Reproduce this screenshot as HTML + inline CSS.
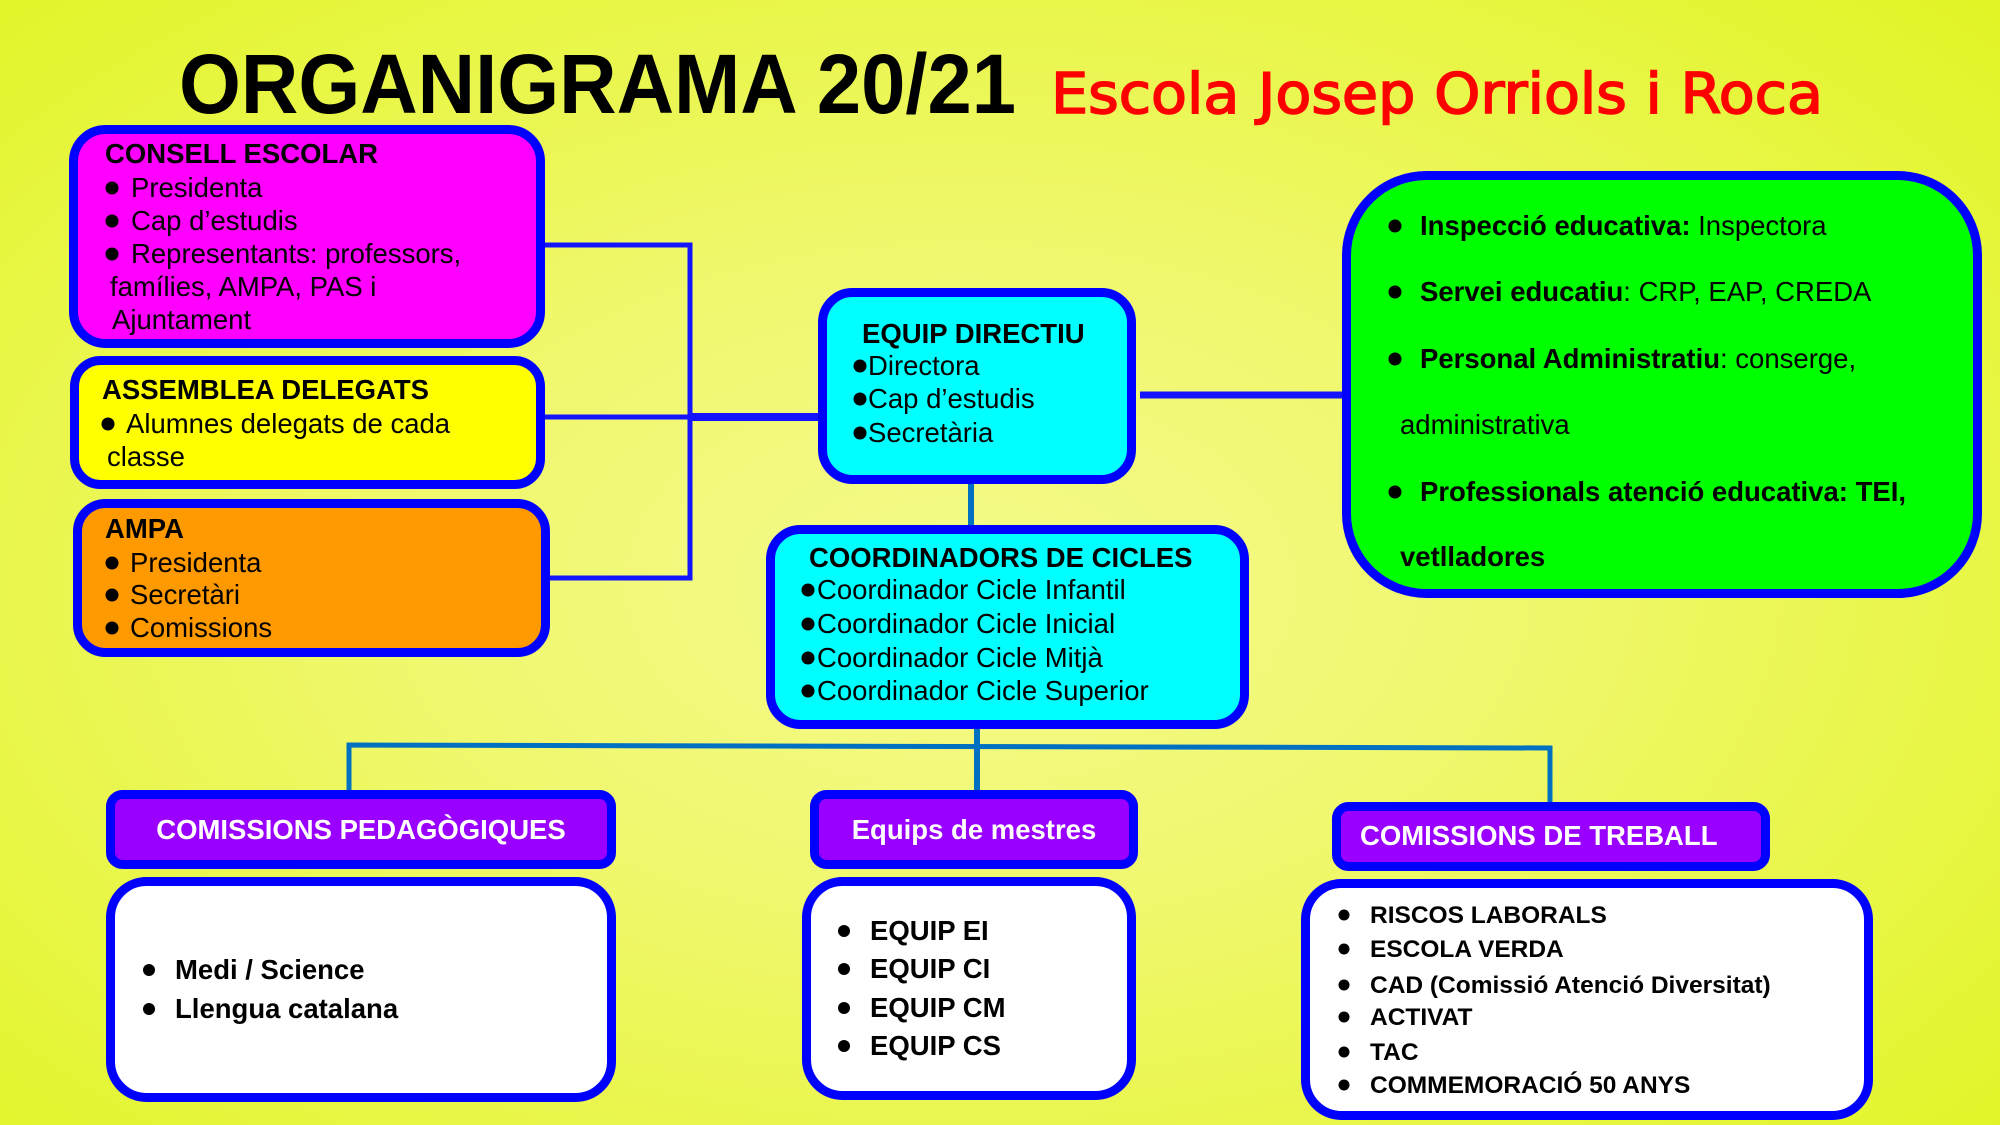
<!DOCTYPE html>
<html>
<head>
<meta charset="utf-8">
<style>
html,body{margin:0;padding:0;}
body{width:2000px;height:1125px;overflow:hidden;
background:radial-gradient(ellipse 75% 80% at 48% 52%, #f4fa8a 0%, #f0f870 35%, #e9f64a 65%, #dff41e 100%);}
svg{display:block;}
text{font-family:"Liberation Sans",Arial,sans-serif;}
.b{font-weight:bold;}
</style>
</head>
<body>
<svg width="2000" height="1125" viewBox="0 0 2000 1125" xmlns="http://www.w3.org/2000/svg">
  <!-- Title -->
  <text x="179" y="113" font-size="84" font-weight="bold" fill="#000" textLength="837" lengthAdjust="spacingAndGlyphs">ORGANIGRAMA 20/21</text>
  <text x="1051" y="113" font-size="56" fill="#ff0000" stroke="#ff0000" stroke-width="1.6" style="font-family:'DejaVu Sans','Liberation Sans',sans-serif" textLength="772" lengthAdjust="spacingAndGlyphs">Escola Josep Orriols i Roca</text>

  <!-- Connectors left (blue) -->
  <polyline points="545,245 690,245 690,578 550,578" fill="none" stroke="#1414ff" stroke-width="5"/>
  <line x1="545" y1="417" x2="692" y2="417" stroke="#1414ff" stroke-width="5"/>
  <line x1="688" y1="417" x2="829" y2="417" stroke="#1414ff" stroke-width="8"/>
  <line x1="1140" y1="395" x2="1342" y2="395" stroke="#1414ff" stroke-width="7"/>

  <!-- Connectors teal -->
  <line x1="971" y1="484" x2="971" y2="527" stroke="#0070c0" stroke-width="6"/>
  <line x1="977" y1="727" x2="977" y2="792" stroke="#0070c0" stroke-width="6"/>
  <polyline points="349,792 349,745 1550,748 1550,804" fill="none" stroke="#0070c0" stroke-width="5"/>

  <!-- CONSELL ESCOLAR -->
  <rect x="73.5" y="129.5" width="467" height="214" rx="32" fill="#ff00ff" stroke="#0000ff" stroke-width="9"/>
  <text x="105" y="163" font-size="27.5" class="b">CONSELL ESCOLAR</text>
  <circle cx="112" cy="188" r="6.5"/>
  <text x="131" y="197" font-size="27.5">Presidenta</text>
  <circle cx="112" cy="221" r="6.5"/>
  <text x="131" y="230" font-size="27.5">Cap d’estudis</text>
  <circle cx="112" cy="254" r="6.5"/>
  <text x="131" y="263" font-size="27.5">Representants: professors,</text>
  <text x="110" y="296" font-size="27.5">famílies, AMPA, PAS i</text>
  <text x="112" y="329" font-size="27.5">Ajuntament</text>

  <!-- ASSEMBLEA DELEGATS -->
  <rect x="74.5" y="360.5" width="466" height="124" rx="26" fill="#ffff00" stroke="#0000ff" stroke-width="9"/>
  <text x="102" y="399" font-size="27.5" class="b">ASSEMBLEA DELEGATS</text>
  <circle cx="108" cy="424" r="6.5"/>
  <text x="126" y="433" font-size="27.5">Alumnes delegats de cada</text>
  <text x="107" y="466" font-size="27.5">classe</text>

  <!-- AMPA -->
  <rect x="77.5" y="503.5" width="468" height="149" rx="28" fill="#ff9900" stroke="#0000ff" stroke-width="9"/>
  <text x="105" y="538" font-size="27.5" class="b">AMPA</text>
  <circle cx="112" cy="563" r="6.5"/>
  <text x="130" y="572" font-size="27.5">Presidenta</text>
  <circle cx="112" cy="595" r="6.5"/>
  <text x="130" y="604" font-size="27.5">Secretàri</text>
  <circle cx="112" cy="628" r="6.5"/>
  <text x="130" y="637" font-size="27.5">Comissions</text>

  <!-- EQUIP DIRECTIU -->
  <rect x="822.5" y="292.5" width="309" height="187" rx="30" fill="#00ffff" stroke="#0000ff" stroke-width="9"/>
  <text x="862" y="343" font-size="27.5" class="b">EQUIP DIRECTIU</text>
  <circle cx="860" cy="366" r="6.5"/>
  <text x="868" y="375" font-size="27.5">Directora</text>
  <circle cx="860" cy="399" r="6.5"/>
  <text x="868" y="408" font-size="27.5">Cap d’estudis</text>
  <circle cx="860" cy="433" r="6.5"/>
  <text x="868" y="442" font-size="27.5">Secretària</text>

  <!-- GREEN -->
  <rect x="1346.5" y="175.5" width="631" height="418" rx="80" fill="#00ff00" stroke="#0000ff" stroke-width="9"/>
  <circle cx="1395" cy="226" r="6.5"/>
  <text x="1420" y="235" font-size="27.5"><tspan class="b">Inspecció educativa:</tspan> Inspectora</text>
  <circle cx="1395" cy="292" r="6.5"/>
  <text x="1420" y="301" font-size="27.5"><tspan class="b">Servei educatiu</tspan>: CRP, EAP, CREDA</text>
  <circle cx="1395" cy="359" r="6.5"/>
  <text x="1420" y="368" font-size="27.5"><tspan class="b">Personal Administratiu</tspan>: conserge,</text>
  <text x="1400" y="434" font-size="27.5">administrativa</text>
  <circle cx="1395" cy="492" r="6.5"/>
  <text x="1420" y="501" font-size="27.5" class="b">Professionals atenció educativa: TEI,</text>
  <text x="1400" y="566" font-size="27.5" class="b">vetlladores</text>

  <!-- COORDINADORS -->
  <rect x="770.5" y="529.5" width="474" height="195" rx="30" fill="#00ffff" stroke="#0000ff" stroke-width="9"/>
  <text x="809" y="567" font-size="27.5" class="b">COORDINADORS DE CICLES</text>
  <circle cx="808" cy="590" r="6.5"/>
  <text x="817" y="599" font-size="27.5">Coordinador Cicle Infantil</text>
  <circle cx="808" cy="624" r="6.5"/>
  <text x="817" y="633" font-size="27.5">Coordinador Cicle Inicial</text>
  <circle cx="808" cy="658" r="6.5"/>
  <text x="817" y="667" font-size="27.5">Coordinador Cicle Mitjà</text>
  <circle cx="808" cy="691" r="6.5"/>
  <text x="817" y="700" font-size="27.5">Coordinador Cicle Superior</text>

  <!-- HEADERS -->
  <rect x="110.5" y="794.5" width="501" height="70" rx="12" fill="#9900ff" stroke="#0000ff" stroke-width="9"/>
  <text x="361" y="839" font-size="27.5" class="b" fill="#fff" text-anchor="middle">COMISSIONS PEDAGÒGIQUES</text>
  <rect x="814.5" y="794.5" width="319" height="70" rx="12" fill="#9900ff" stroke="#0000ff" stroke-width="9"/>
  <text x="974" y="839" font-size="27.5" class="b" fill="#fff" text-anchor="middle">Equips de mestres</text>
  <rect x="1336.5" y="806.5" width="429" height="60" rx="12" fill="#9900ff" stroke="#0000ff" stroke-width="9"/>
  <text x="1360" y="845" font-size="27.5" class="b" fill="#fff">COMISSIONS DE TREBALL</text>

  <!-- WHITE BOXES -->
  <rect x="110.5" y="881.5" width="501" height="216" rx="36" fill="#ffffff" stroke="#0000ff" stroke-width="9"/>
  <circle cx="149" cy="970" r="6"/>
  <text x="175" y="979" font-size="27.5" class="b">Medi / Science</text>
  <circle cx="149" cy="1009" r="6"/>
  <text x="175" y="1018" font-size="27.5" class="b">Llengua catalana</text>

  <rect x="806.5" y="881.5" width="325" height="214" rx="36" fill="#ffffff" stroke="#0000ff" stroke-width="9"/>
  <circle cx="844" cy="931" r="6"/>
  <text x="870" y="940" font-size="27.5" class="b">EQUIP EI</text>
  <circle cx="844" cy="969" r="6"/>
  <text x="870" y="978" font-size="27.5" class="b">EQUIP CI</text>
  <circle cx="844" cy="1008" r="6"/>
  <text x="870" y="1017" font-size="27.5" class="b">EQUIP CM</text>
  <circle cx="844" cy="1046" r="6"/>
  <text x="870" y="1055" font-size="27.5" class="b">EQUIP CS</text>

  <rect x="1305.5" y="883.5" width="563" height="232" rx="36" fill="#ffffff" stroke="#0000ff" stroke-width="9"/>
  <circle cx="1344" cy="915" r="5.5"/>
  <text x="1370" y="923" font-size="24.5" class="b">RISCOS LABORALS</text>
  <circle cx="1344" cy="949" r="5.5"/>
  <text x="1370" y="957" font-size="24.5" class="b">ESCOLA VERDA</text>
  <circle cx="1344" cy="985" r="5.5"/>
  <text x="1370" y="993" font-size="24.5" class="b">CAD (Comissió Atenció Diversitat)</text>
  <circle cx="1344" cy="1017" r="5.5"/>
  <text x="1370" y="1025" font-size="24.5" class="b">ACTIVAT</text>
  <circle cx="1344" cy="1052" r="5.5"/>
  <text x="1370" y="1060" font-size="24.5" class="b">TAC</text>
  <circle cx="1344" cy="1085" r="5.5"/>
  <text x="1370" y="1093" font-size="24.5" class="b">COMMEMORACIÓ 50 ANYS</text>
</svg>
</body>
</html>
